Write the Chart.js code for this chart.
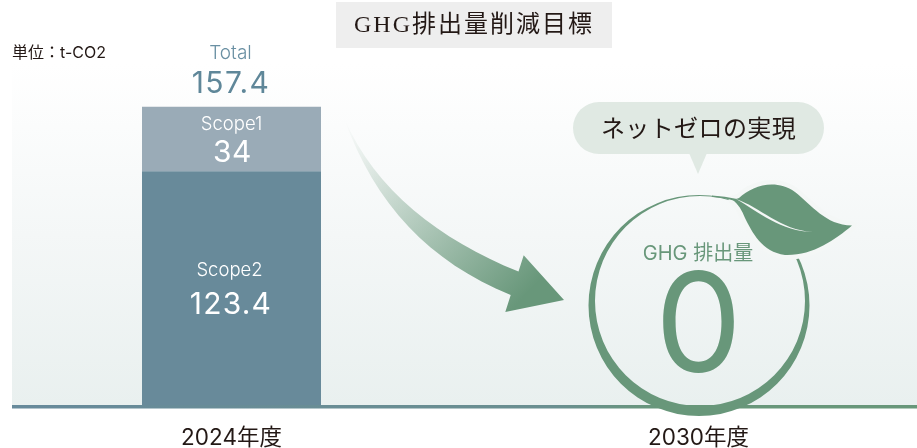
<!DOCTYPE html>
<html lang="ja">
<head>
<meta charset="utf-8">
<title>GHG排出量削減目標</title>
<script src="https://cdn.jsdelivr.net/npm/chart.js@4"></script>
<style>
  html, body { margin: 0; padding: 0; background: #fff; overflow: hidden; }
  #wrap { position: relative; width: 917px; height: 448px; overflow: hidden; }
  #chart { position: absolute; left: -2px; top: 0; }
</style>
</head>
<body>
<div id="wrap"><canvas id="chart" width="934" height="448"></canvas></div>
<script>
const categories = ["2024年度", "2030年度"];
const seriesNames = ["Scope2", "Scope1"];
const scope2Values = [123.4, 0];
const scope1Values = [34, 0];
const totalValues = [157.4, 0];

const FONT = 'Inter, "Noto Sans CJK JP", sans-serif';
const GREEN = "#68977a";
const DARK = "#231815";
// the canvas sits 2px left of the page so the category bands land where they should
const SHIFT = 2;

const drawText = (ctx, text, x, y, font, color, spacing) => {
  ctx.font = font;
  ctx.fillStyle = color;
  ctx.letterSpacing = spacing || "0px";
  ctx.textAlign = "center";
  ctx.textBaseline = "middle";
  ctx.fillText(text, x, y);
  ctx.letterSpacing = "0px";
};

const backdrop = {
  id: "backdrop",
  beforeDraw(chart) {
    const { ctx, chartArea } = chart;
    const bottom = chartArea.bottom;
    ctx.save();
    ctx.translate(SHIFT, 0);
    const bg = ctx.createLinearGradient(0, chartArea.top, 0, bottom);
    bg.addColorStop(0, "#ffffff");
    bg.addColorStop(0.5, "#f4f7f7");
    bg.addColorStop(1, "#e9f0ef");
    ctx.fillStyle = bg;
    ctx.fillRect(12, chartArea.top, 905, bottom - chartArea.top);

    ctx.fillStyle = "#eeeeee";
    ctx.fillRect(336, 2, 276, 46);
    ctx.restore();
  },
};

const decorations = {
  id: "decorations",
  afterDatasetsDraw(chart) {
    const { ctx, chartArea } = chart;
    const bottom = chartArea.bottom;
    ctx.save();
    ctx.translate(SHIFT, 0);

    // baseline
    const line = ctx.createLinearGradient(12, 0, 917, 0);
    line.addColorStop(0, "#678a9b");
    line.addColorStop(0.6, "#6a8f90");
    line.addColorStop(0.72, GREEN);
    line.addColorStop(1, GREEN);
    ctx.fillStyle = line;
    ctx.fillRect(12, bottom, 905, 3.5);

    // arrow
    const arrow = ctx.createLinearGradient(345, 120, 530, 290);
    arrow.addColorStop(0, "rgba(104,151,122,0)");
    arrow.addColorStop(0.15, "rgba(104,151,122,0.12)");
    arrow.addColorStop(1, "rgba(104,151,122,1)");
    ctx.fillStyle = arrow;
    ctx.beginPath();
    ctx.moveTo(344, 118);
    ctx.bezierCurveTo(375, 190, 440, 240, 518.5, 271.5);
    ctx.lineTo(523.7, 255.3);
    ctx.lineTo(564, 300);
    ctx.lineTo(505.3, 312);
    ctx.lineTo(510.7, 295);
    ctx.bezierCurveTo(430, 262, 375, 205, 344, 118);
    ctx.closePath();
    ctx.fill();

    // ring
    ctx.fillStyle = GREEN;
    ctx.beginPath();
    ctx.arc(699, 305.5, 110.5, 0, Math.PI * 2);
    ctx.moveTo(805, 301);
    ctx.arc(700, 301, 105, 0, Math.PI * 2);
    ctx.fill("evenodd");

    // leaf
    const leafPath = new Path2D();
    leafPath.moveTo(739, 198);
    leafPath.bezierCurveTo(752, 186, 775, 178, 795, 192);
    leafPath.bezierCurveTo(812, 205, 825, 225, 852, 225.5);
    leafPath.bezierCurveTo(835, 240, 812, 256, 785, 255);
    leafPath.bezierCurveTo(762, 252, 752, 232, 745, 218);
    leafPath.bezierCurveTo(742, 210, 738, 204, 733, 200);
    leafPath.closePath();
    ctx.strokeStyle = "#f4f7f6";
    ctx.lineWidth = 9;
    ctx.lineJoin = "round";
    ctx.stroke(leafPath);
    ctx.fill(leafPath);
    // stem joins ring
    ctx.beginPath();
    ctx.moveTo(712, 195.5);
    ctx.quadraticCurveTo(725, 196, 737, 199);
    ctx.lineTo(735, 201);
    ctx.quadraticCurveTo(725, 197.5, 712, 197);
    ctx.closePath();
    ctx.fill();
    // vein
    ctx.fillStyle = "#f4f7f6";
    ctx.beginPath();
    ctx.moveTo(736, 199);
    ctx.bezierCurveTo(760, 207, 780, 230, 813, 232);
    ctx.bezierCurveTo(782, 232, 757, 211, 736, 199);
    ctx.closePath();
    ctx.fill();

    // speech bubble
    ctx.fillStyle = "#e0e9e3";
    ctx.beginPath();
    ctx.roundRect(573, 102, 251, 52, 26);
    ctx.fill();
    ctx.beginPath();
    ctx.moveTo(689, 153);
    ctx.lineTo(707, 153);
    ctx.lineTo(698, 174);
    ctx.closePath();
    ctx.fill();

    // texts
    drawText(ctx, "GHG排出量削減目標", 474, 26, '24px "Liberation Serif", "Noto Sans CJK JP", serif', DARK, "2px");
    ctx.font = "16px " + FONT;
    ctx.fillStyle = DARK;
    ctx.textAlign = "left";
    ctx.textBaseline = "middle";
    ctx.fillText("単位：t-CO2", 12, 53);

    const bar2 = chart.getDatasetMeta(0).data[0];
    const bar1 = chart.getDatasetMeta(1).data[0];
    const barX = bar1.x - SHIFT;
    drawText(ctx, "Total", barX - 1, 53.5, "300 19px " + FONT, "#6a90a3");
    drawText(ctx, String(totalValues[0]), barX - 0.5, 83.5, "400 30px " + FONT, "#5f8799", "1.4px");
    drawText(ctx, seriesNames[1], barX, bar1.y + 18, "300 18.5px " + FONT, "#ffffff");
    drawText(ctx, String(scope1Values[0]), barX + 1, bar1.y + 46, "400 30px " + FONT, "#ffffff", "0.5px");
    drawText(ctx, seriesNames[0], barX - 2, bar2.y + 99.5, "300 18.5px " + FONT, "#ffffff");
    drawText(ctx, String(scope2Values[0]), barX - 0.5, bar2.y + 133.5, "400 30px " + FONT, "#ffffff", "1.2px");

    const zeroX = chart.getDatasetMeta(0).data[1].x - SHIFT;
    drawText(ctx, "GHG 排出量", zeroX - 0.5, 254, "20px " + FONT, GREEN);
    drawText(ctx, String(totalValues[1]), zeroX, 331, "400 138px " + FONT, GREEN);
    drawText(ctx, "ネットゼロの実現", zeroX, 128, '24px "Noto Sans CJK JP", sans-serif', DARK, "0.4px");
    ctx.restore();
  },
};

new Chart(document.getElementById("chart"), {
  type: "bar",
  data: {
    labels: categories,
    datasets: [
      { label: seriesNames[0], data: scope2Values, backgroundColor: "#688a9a" },
      { label: seriesNames[1], data: scope1Values, backgroundColor: "#9aabb7" },
    ],
  },
  options: {
    responsive: false,
    animation: false,
    layout: { padding: { left: 0, right: 0, top: 64, bottom: 0 } },
    datasets: { bar: { categoryPercentage: 1, barPercentage: 0.3833 } },
    scales: {
      x: {
        stacked: true,
        grid: { display: false },
        border: { display: false },
        ticks: { color: DARK, padding: 12, maxRotation: 0, font: { family: FONT, size: 22.5 } },
        afterFit: (scale) => { scale.height = 43; },
      },
      y: { stacked: true, display: false, min: 0, max: 180 },
    },
    plugins: {
      legend: { display: false },
      tooltip: { enabled: false },
      title: { display: false },
    },
  },
  plugins: [backdrop, decorations],
});
</script>
</body>
</html>
